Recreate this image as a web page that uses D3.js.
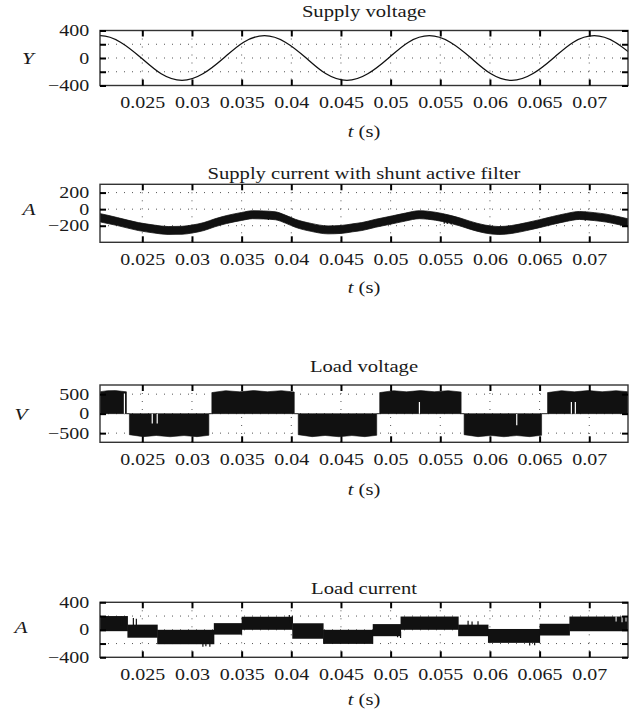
<!DOCTYPE html>
<html>
<head>
<meta charset="utf-8">
<script src="https://cdn.jsdelivr.net/npm/d3@7"></script>
<style>
  body { margin: 0; background: #fff; }
  svg { display: block; }
  text { font-family: "Liberation Serif", "Times New Roman", serif; fill: #1a1a1a; font-size: 16px; }
</style>
</head>
<body>
<svg id="chart" width="640" height="723"></svg>
<script>
// ---- time axis shared by all four traces ----
const timeTicks = [0.025, 0.03, 0.035, 0.04, 0.045, 0.05, 0.055, 0.06, 0.065, 0.07];
const timeTickLabels = ["0.025", "0.03", "0.035", "0.04", "0.045", "0.05", "0.055", "0.06", "0.065", "0.07"];

// ---- supply voltage samples [t (s), volts] ----
const supplyVoltage = [
  [0.0186, 230], [0.0207, 325], [0.0228, 230], [0.0249, 0], [0.0269, -230], [0.0290, -325],
  [0.0311, -230], [0.0332, 0], [0.0352, 230], [0.0373, 325], [0.0394, 230], [0.0415, 0],
  [0.0435, -230], [0.0456, -325], [0.0477, -230], [0.0498, 0], [0.0518, 230], [0.0539, 325],
  [0.0560, 230], [0.0581, 0], [0.0601, -230], [0.0622, -325], [0.0643, -230], [0.0664, 0],
  [0.0684, 230], [0.0705, 325], [0.0726, 230], [0.0747, 0]
];

// ---- supply current ripple band [t (s), lower A, upper A] ----
const supplyCurrentBand = [
  [0.0200, -135, -38], [0.0208, -155, -55], [0.0225, -198, -102], [0.0246, -258, -162],
  [0.0262, -288, -192], [0.0276, -305, -210], [0.0290, -303, -207], [0.0300, -288, -192],
  [0.0312, -258, -162], [0.0323, -213, -117], [0.0335, -173, -77], [0.0350, -136, -40],
  [0.0361, -115, -19], [0.0372, -118, -22], [0.0384, -128, -32], [0.0394, -168, -72],
  [0.0404, -218, -122], [0.0420, -268, -172], [0.0437, -298, -202], [0.0450, -293, -197],
  [0.0462, -273, -177], [0.0471, -258, -162], [0.0485, -218, -122], [0.0502, -176, -80],
  [0.0515, -143, -47], [0.0529, -115, -19], [0.0545, -133, -37], [0.0559, -168, -72],
  [0.0570, -203, -107], [0.0579, -238, -142], [0.0595, -288, -192], [0.0609, -306, -210],
  [0.0622, -293, -197], [0.0637, -258, -162], [0.0650, -223, -127], [0.0663, -185, -89],
  [0.0677, -148, -52], [0.0690, -124, -28], [0.0705, -138, -42], [0.0717, -156, -60],
  [0.0730, -188, -92], [0.0745, -228, -132]
];
// switching spikes on the supply current [t, from A, to A]
const supplyCurrentSpikes = [
  [0.0377, -80, -130], [0.0554, -70, -175], [0.0557, -75, -180], [0.0561, -85, -185],
  [0.0566, -95, -190], [0.0696, -30, -140]
];

// ---- load voltage envelope [t (s), volts], filled against zero ----
const loadVoltageEnvelope = [
  [0.0200, 0], [0.0200, 560], [0.0208, 565], [0.0215, 590], [0.0223, 592], [0.0229, 575], [0.0234, 560], [0.0234, 0],
  [0.0237, 0], [0.0237, -540], [0.0251, -590], [0.0264, -560], [0.0278, -592], [0.0292, -562], [0.0305, -590], [0.0317, -555], [0.0317, 0],
  [0.0320, 0], [0.0320, 540], [0.0334, 590], [0.0348, 560], [0.0362, 592], [0.0376, 562], [0.0390, 590], [0.0403, 555], [0.0403, 0],
  [0.0407, 0], [0.0407, -540], [0.0421, -590], [0.0434, -560], [0.0448, -592], [0.0461, -562], [0.0474, -590], [0.0486, -555], [0.0486, 0],
  [0.0489, 0], [0.0489, 540], [0.0503, 590], [0.0516, 560], [0.0530, 592], [0.0544, 562], [0.0558, 590], [0.0571, 555], [0.0571, 0],
  [0.0574, 0], [0.0574, -540], [0.0588, -590], [0.0601, -560], [0.0614, -592], [0.0627, -562], [0.0640, -590], [0.0652, -555], [0.0652, 0],
  [0.0658, 0], [0.0658, 540], [0.0672, 590], [0.0685, 560], [0.0699, 592], [0.0713, 562], [0.0727, 590], [0.0740, 560], [0.0745, 560], [0.0745, 0]
];
// short commutation notches inside the blocks [t, from V, to V]
const loadVoltageNotches = [
  [0.0232, 0, 520], [0.0260, 0, -250], [0.0265, 0, -250], [0.0529, 0, 300],
  [0.0627, 0, -300], [0.0682, 0, 300], [0.0686, 0, 300]
];

// ---- load current six-step band [t start, t end, lower A, upper A] ----
const loadCurrentSteps = [
  [0.0200, 0.0235, -20, 200], [0.0235, 0.0265, -115, 75], [0.0265, 0.0322, -210, 0],
  [0.0322, 0.0350, -70, 97], [0.0350, 0.0401, 0, 190], [0.0401, 0.0432, -130, 95],
  [0.0432, 0.0482, -205, 0], [0.0482, 0.0510, -93, 83], [0.0510, 0.0568, 0, 193],
  [0.0568, 0.0598, -93, 75], [0.0598, 0.0650, -190, 12], [0.0650, 0.0680, -83, 88],
  [0.0680, 0.0745, -21, 193]
];
const loadCurrentSpikes = [
  [0.0229, 60, 195], [0.0241, 60, 170], [0.0244, 60, 160], [0.0311, -200, -245],
  [0.0314, -200, -240], [0.0318, -190, -245], [0.0398, 100, 215], [0.0401, 90, 205],
  [0.0507, -20, -110], [0.0510, -30, -120], [0.0578, 70, 130], [0.0582, 70, 120],
  [0.0588, 70, 125], [0.0640, -185, -230], [0.0645, -185, -225]
];
const loadCurrentNotches = [
  [0.0727, 120, 193], [0.0733, 110, 193], [0.0737, 120, 193]
];

// ---- panel texts and value axes ----
const panelTitles = ["Supply voltage", "Supply current with shunt active filter", "Load voltage", "Load current"];
const panelYLabels = ["Y", "A", "V", "A"];
const panelYDomains = [[-400, 400], [-400, 300], [-735, 735], [-400, 400]];
const panelYTicks = [[-400, -200, 0, 200, 400], [-200, 0, 200], [-500, 0, 500], [-400, -200, 0, 200, 400]];
const panelYTickLabels = [["\u2212400", "", "0", "", "400"], ["\u2212200", "0", "200"], ["\u2212500", "0", "500"], ["\u2212400", "", "0", "", "400"]];
const panelYGrid = [[-200, 0, 200], [-200, 0, 200], [-500, 0, 500], [-200, 0, 200]];

// ---- layout ----
const X0 = 100, X1 = 628;
const stretch = 1.25;      // horizontal stretch of the typeface
const layout = [
  { top: 30.5,  bottom: 85.5,  titleY: 16.5, xLabelY: 137, yLabelX: 28, yLabelY: 64 },
  { top: 184.3, bottom: 242.3, titleY: 179,  xLabelY: 293, yLabelX: 29, yLabelY: 215 },
  { top: 385,   bottom: 442.3, titleY: 372,  xLabelY: 495, yLabelX: 21, yLabelY: 420 },
  { top: 602.3, bottom: 657.3, titleY: 594,  xLabelY: 705, yLabelX: 21, yLabelY: 633 }
];

const svg = d3.select("#chart");
const x = d3.scaleLinear().domain([0.02074, 0.0739]).range([X0, X1]);

function stretchedText(parent, tx, ty, size) {
  return parent.append("text")
    .attr("transform", `translate(${tx},${ty}) scale(${stretch},1)`)
    .attr("text-anchor", "middle")
    .style("font-size", size + "px");
}

// mark drawers, one per trace
const drawers = [
  (g, y) => {
    g.append("path").datum(supplyVoltage)
      .attr("fill", "none").attr("stroke", "#111").attr("stroke-width", 1.3)
      .attr("d", d3.line().x(d => x(d[0])).y(d => y(d[1])).curve(d3.curveNatural));
  },
  (g, y) => {
    g.append("path").datum(supplyCurrentBand)
      .attr("fill", "#111").attr("stroke", "#111").attr("stroke-width", 0.8)
      .attr("d", d3.area().x(d => x(d[0])).y0(d => y(d[1])).y1(d => y(d[2])).curve(d3.curveMonotoneX));
    g.selectAll("line.spike").data(supplyCurrentSpikes).join("line").attr("class", "spike")
      .attr("x1", d => x(d[0])).attr("x2", d => x(d[0]))
      .attr("y1", d => y(d[1])).attr("y2", d => y(d[2]))
      .attr("stroke", "#111").attr("stroke-width", 1.2);
  },
  (g, y) => {
    g.append("path").datum(loadVoltageEnvelope)
      .attr("fill", "#111").attr("stroke", "#111").attr("stroke-width", 0.6)
      .attr("d", d3.area().x(d => x(d[0])).y0(y(0)).y1(d => y(d[1])));
    g.selectAll("line.notch").data(loadVoltageNotches).join("line").attr("class", "notch")
      .attr("x1", d => x(d[0])).attr("x2", d => x(d[0]))
      .attr("y1", d => y(d[1])).attr("y2", d => y(d[2]))
      .attr("stroke", "#fff").attr("stroke-width", 1.2);
  },
  (g, y) => {
    g.selectAll("rect.step").data(loadCurrentSteps).join("rect").attr("class", "step")
      .attr("x", d => x(d[0])).attr("width", d => x(d[1]) - x(d[0]) + 0.5)
      .attr("y", d => y(d[3])).attr("height", d => y(d[2]) - y(d[3]))
      .attr("fill", "#111");
    g.selectAll("line.spike").data(loadCurrentSpikes).join("line").attr("class", "spike")
      .attr("x1", d => x(d[0])).attr("x2", d => x(d[0]))
      .attr("y1", d => y(d[1])).attr("y2", d => y(d[2]))
      .attr("stroke", "#111").attr("stroke-width", 1.2);
    g.selectAll("line.notch").data(loadCurrentNotches).join("line").attr("class", "notch")
      .attr("x1", d => x(d[0])).attr("x2", d => x(d[0]))
      .attr("y1", d => y(d[1])).attr("y2", d => y(d[2]))
      .attr("stroke", "#fff").attr("stroke-width", 1);
  }
];

layout.forEach((L, i) => {
  const y = d3.scaleLinear().domain(panelYDomains[i]).range([L.bottom, L.top]);
  const g = svg.append("g");

  svg.append("clipPath").attr("id", "plot" + i)
    .append("rect").attr("x", X0).attr("y", L.top).attr("width", X1 - X0).attr("height", L.bottom - L.top);

  // dotted grid
  const grid = g.append("g").attr("stroke", "#555").attr("stroke-width", 1).attr("stroke-dasharray", "1,7");
  grid.selectAll("line.v").data(timeTicks).join("line").attr("class", "v")
    .attr("x1", d => x(d)).attr("x2", d => x(d)).attr("y1", L.top).attr("y2", L.bottom);
  grid.selectAll("line.h").data(panelYGrid[i]).join("line").attr("class", "h")
    .attr("x1", X0).attr("x2", X1).attr("y1", d => y(d)).attr("y2", d => y(d));

  // trace
  drawers[i](g.append("g").attr("clip-path", `url(#plot${i})`), y);

  // frame
  g.append("rect").attr("x", X0).attr("y", L.top).attr("width", X1 - X0).attr("height", L.bottom - L.top)
    .attr("fill", "none").attr("stroke", "#333").attr("stroke-width", 1.4);

  // axes with inward ticks on all four sides
  const styleAxis = a => {
    a.select(".domain").remove();
    a.selectAll(".tick line").attr("stroke", "#000").attr("stroke-width", 2);
  };
  const bottom = g.append("g").attr("transform", `translate(0,${L.bottom})`)
    .call(d3.axisBottom(x).tickValues(timeTicks).tickFormat((d, k) => timeTickLabels[k])
      .tickSizeInner(-6).tickSizeOuter(0).tickPadding(11));
  styleAxis(bottom);
  bottom.selectAll(".tick text").attr("transform", `scale(${stretch},1)`);

  const top = g.append("g").attr("transform", `translate(0,${L.top})`)
    .call(d3.axisTop(x).tickValues(timeTicks).tickFormat("").tickSizeInner(-6).tickSizeOuter(0));
  styleAxis(top);

  const left = g.append("g").attr("transform", `translate(${X0},0)`)
    .call(d3.axisLeft(y).tickValues(panelYTicks[i]).tickFormat((d, k) => panelYTickLabels[i][k])
      .tickSizeInner(-6).tickSizeOuter(0).tickPadding(8.6));
  styleAxis(left);
  left.selectAll(".tick text").attr("transform", `scale(${stretch},1)`);

  const right = g.append("g").attr("transform", `translate(${X1},0)`)
    .call(d3.axisRight(y).tickValues(panelYTicks[i]).tickFormat("").tickSizeInner(-6).tickSizeOuter(0));
  styleAxis(right);

  // titles and axis names
  stretchedText(g, (X0 + X1) / 2, L.titleY, 16.5).text(panelTitles[i]);
  stretchedText(g, L.yLabelX, L.yLabelY, 17).style("font-style", "italic").text(panelYLabels[i]);
  const xl = stretchedText(g, (X0 + X1) / 2, L.xLabelY, 16.5);
  xl.append("tspan").style("font-style", "italic").text("t");
  xl.append("tspan").text(" (s)");
});
</script>
</body>
</html>
